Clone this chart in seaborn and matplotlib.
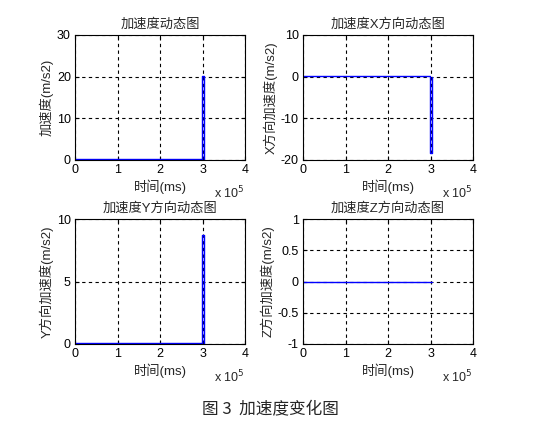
import matplotlib
matplotlib.use("Agg")
import matplotlib.pyplot as plt
import seaborn as sns
import pandas as pd

# ---- data ----
t_total = [0, 2.985e5, 2.985e5, 3.04e5, 3.04e5]
a_total = [0.2, 0.2, 20.2, 20.2, 0.0]
t_x = [0, 2.99e5, 2.99e5, 3.04e5, 3.04e5]
a_x = [0.1, 0.1, -18.2, -18.2, 0.0]
t_y = [0, 2.985e5, 2.985e5, 3.04e5, 3.04e5]
a_y = [0.05, 0.05, 8.7, 8.7, 0.0]
t_z = [0, 3.035e5]
a_z = [0.0, 0.0]

titles = ["加速度动态图", "加速度X方向动态图", "加速度Y方向动态图", "加速度Z方向动态图"]
ylabels = ["加速度(m/s2)", "X方向加速度(m/s2)", "Y方向加速度(m/s2)", "Z方向加速度(m/s2)"]
xlabel = "时间(ms)"
xticks = [0, 1, 2, 3, 4]
yticks_list = [[0, 10, 20, 30], [-20, -10, 0, 10], [0, 5, 10], [-1, -0.5, 0, 0.5, 1]]
ytick_labels = [["0", "10", "20", "30"], ["-20", "-10", "0", "10"], ["0", "5", "10"],
                ["-1", "-0.5", "0", "0.5", "1"]]
caption = "图 3  加速度变化图"

sns.set_style("white")
plt.rcParams['font.family'] = ['Liberation Sans', 'Noto Sans CJK SC', 'DejaVu Sans']
plt.rcParams['axes.unicode_minus'] = False

fig = plt.figure(figsize=(5.4, 4.43), dpi=100)
W, H = 540, 443
boxes = [(75, 35), (303, 35), (75, 219), (303, 219)]
series = [(t_total, a_total), (t_x, a_x), (t_y, a_y), (t_z, a_z)]

for i, ((lx, ty), (tt, aa)) in enumerate(zip(boxes, series)):
    ax = fig.add_axes([lx / W, 1 - (ty + 125) / H, 170 / W, 125 / H])
    df = pd.DataFrame({"t": tt, "a": aa})
    sns.lineplot(data=df, x="t", y="a", ax=ax, color="#0000ff", lw=1.0,
                 estimator=None, sort=False)
    ax.set_xlim(0, 4e5)
    yt = yticks_list[i]
    ax.set_ylim(yt[0], yt[-1])
    ax.set_xticks([v * 1e5 for v in xticks])
    ax.set_xticklabels([str(v) for v in xticks])
    ax.set_yticks(yt)
    ax.set_yticklabels(ytick_labels[i])
    ax.grid(True, color="black", linestyle=(0, (3, 3)), linewidth=0.8)
    ax.tick_params(direction="in", length=3, labelsize=9, colors="black",
                   top=True, right=True, bottom=True, left=True, pad=3)
    for s in ax.spines.values():
        s.set_color("black")
        s.set_linewidth(0.8)
    ax.set_title(titles[i], fontsize=9.5, pad=5)
    ax.set_xlabel(xlabel, fontsize=9.5, labelpad=2)
    ax.set_ylabel(ylabels[i], fontsize=9.5, labelpad=2)
    ax.text(1.0, -0.2, "x 10$^5$", transform=ax.transAxes, ha="right", va="top",
            fontsize=9)

fig.text(0.5, 1 - 410 / H, caption, ha="center", va="center", fontsize=12,
         family=['Noto Sans CJK SC', 'DejaVu Sans'])

fig.savefig("out.png", dpi=100, facecolor="white")
